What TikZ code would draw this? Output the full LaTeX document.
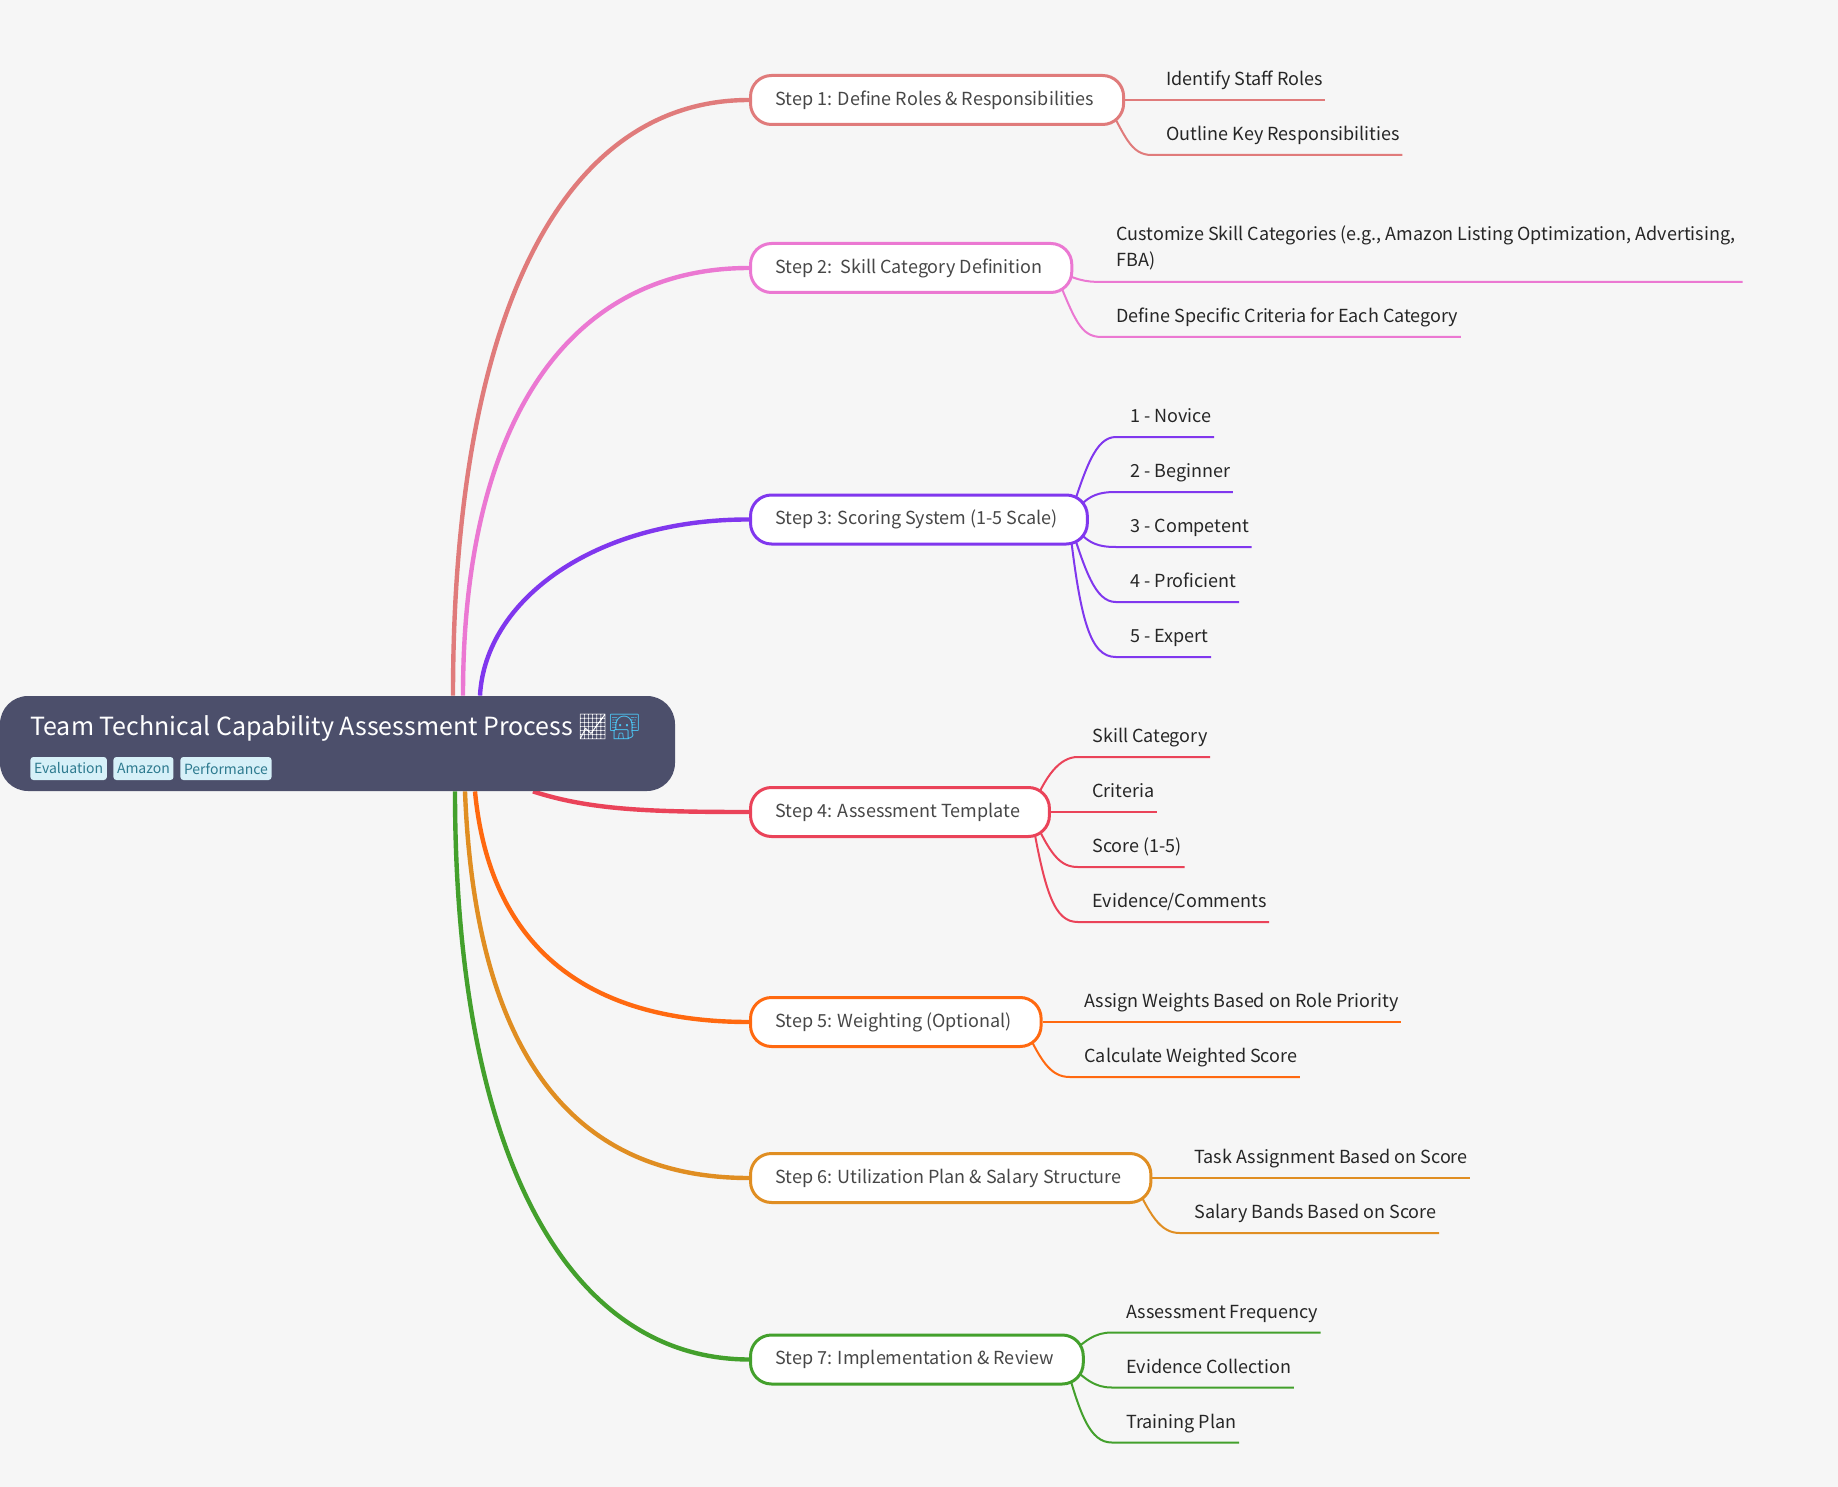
\documentclass[tikz,border=0pt]{standalone}
\usepackage{fontspec}
\setmainfont{Noto Sans CJK SC}
\newfontfamily\emojifont{Noto Emoji}
\usetikzlibrary{positioning}

\definecolor{paper}{HTML}{F6F6F6}
\definecolor{rootfill}{HTML}{4C4F6B}
\definecolor{tagfill}{HTML}{D6F0F8}
\definecolor{tagtext}{HTML}{2D7A8F}
\definecolor{stepone}{HTML}{E07B7B}
\definecolor{steptwo}{HTML}{EB78D2}
\definecolor{stepthree}{HTML}{8037EE}
\definecolor{stepfour}{HTML}{EA4359}
\definecolor{stepfive}{HTML}{FF6910}
\definecolor{stepsix}{HTML}{E08E22}
\definecolor{stepseven}{HTML}{43A02C}

\pgfdeclarelayer{under}
\pgfsetlayers{under,main}

\tikzset{
	rootbox/.style={fill=rootfill, rounded corners=14pt, minimum width=337.5pt, minimum height=47.5pt, inner sep=0pt},
	roottitle/.style={anchor=west, text=white, inner sep=0pt, font=\fontsize{12.5}{14}\selectfont},
	tagbox/.style={anchor=west, fill=tagfill, text=tagtext, rounded corners=1.5pt, inner xsep=1.8pt, inner ysep=0pt, minimum height=11.5pt, font=\fontsize{7}{8}\selectfont},
	stepbox/.style={anchor=west, draw, fill=white, line width=1.5pt, rounded corners=10.5pt, text=black!72, inner xsep=12.5pt, inner ysep=0pt, minimum height=24.5pt, font=\fontsize{9}{11}\selectfont, execute at end node={\hspace*{2.2pt}}},
	leaf/.style={anchor=south west, xshift=.4pt, text=black!85, inner xsep=1.1pt, inner ysep=0pt, text depth=7pt, font=\fontsize{9}{13}\selectfont},
	branch/.style={line width=2.2pt},
	twig/.style={line width=1pt},
}

\begin{document}
\begin{tikzpicture}[x=.5pt, y=-.5pt]
	\useasboundingbox (0,0) rectangle (1838,1487);

	\node[rootbox] (root) at (337.5,743.5) {};
	\node[roottitle] (title) at (30,727.5) {Team Technical Capability Assessment Process\hspace{-1pt} {\emojifont\textcolor{white}{📈}\textcolor{cyan!70!white}{👨‍💻}}};
	\node[tagbox] (tag1) at (30,768.5) {Evaluation};
	\node[tagbox] (tag2) at (113,768.5) {Amazon};
	\node[tagbox] (tag3) at (180,768.5) {Performance};

	\node[stepbox, draw=stepone] (s1) at (749,100) {Step 1: Define Roles \& Responsibilities};
	\node[stepbox, draw=steptwo] (s2) at (749,268) {Step 2:\ \ Skill Category Definition};
	\node[stepbox, draw=stepthree] (s3) at (749,519.5) {Step 3: Scoring System (1-5 Scale)};
	\node[stepbox, draw=stepfour] (s4) at (749,812) {Step 4: Assessment Template};
	\node[stepbox, draw=stepfive] (s5) at (749,1022) {Step 5: Weighting (Optional)};
	\node[stepbox, draw=stepsix] (s6) at (749,1178) {Step 6: Utilization Plan \& Salary Structure};
	\node[stepbox, draw=stepseven] (s7) at (749,1359.5) {Step 7: Implementation \& Review};

	\node[leaf] (l11) at (1163,100) {Identify Staff Roles};
	\node[leaf] (l12) at (1163,155) {Outline Key Responsibilities};
	\node[leaf, align=left, text depth=7.5pt] (l21) at (1113,282) {Customize Skill Categories (e.g., Amazon Listing Optimization, Advertising,\\FBA)};
	\node[leaf] (l22) at (1113,337) {Define Specific Criteria for Each Category};
	\node[leaf] (l31) at (1127,437) {1 - Novice};
	\node[leaf] (l32) at (1127,492) {2 - Beginner};
	\node[leaf] (l33) at (1127,547) {3 - Competent};
	\node[leaf] (l34) at (1127,602) {4 - Proficient};
	\node[leaf] (l35) at (1127,657) {5 - Expert};
	\node[leaf] (l41) at (1089,757) {Skill Category};
	\node[leaf] (l42) at (1089,812) {Criteria};
	\node[leaf] (l43) at (1089,867) {Score (1-5)};
	\node[leaf] (l44) at (1089,922) {Evidence/Comments};
	\node[leaf] (l51) at (1081,1022) {Assign Weights Based on Role Priority};
	\node[leaf] (l52) at (1081,1077) {Calculate Weighted Score};
	\node[leaf] (l61) at (1191,1178) {Task Assignment Based on Score};
	\node[leaf] (l62) at (1191,1233) {Salary Bands Based on Score};
	\node[leaf] (l71) at (1123,1332.5) {Assessment Frequency};
	\node[leaf] (l72) at (1123,1387.5) {Evidence Collection};
	\node[leaf] (l73) at (1123,1442.5) {Training Plan};

	\begin{pgfonlayer}{under}
	\fill[paper] (0,0) rectangle (1838,1487);
	% from the root to the steps
	\draw[branch, stepone] (root.north -| 453,0) .. controls (453,320) and (560,100) .. (s1.west);
	\draw[branch, steptwo] (root.north -| 463,0) .. controls (463,420) and (570,268) .. (s2.west);
	\draw[branch, stepthree] (root.north -| 480,0) .. controls (485,600) and (595,519) .. (s3.west);
	\draw[branch, stepfour] (root.south -| 533,0) .. controls (590,810) and (650,812) .. (s4.west);
	\draw[branch, stepfive] (root.south -| 475,0) .. controls (490,950) and (590,1022) .. (s5.west);
	\draw[branch, stepsix] (root.south -| 465,0) .. controls (475,1050) and (570,1178) .. (s6.west);
	\draw[branch, stepseven] (root.south -| 455,0) .. controls (455,1160) and (570,1359) .. (s7.west);

	% from the steps to the leaves
	\draw[twig, stepone] (s1.east) -- (l11.south east);
	\draw[twig, stepone] ([xshift=-10pt]s1.east) .. controls (1125,135) and (1130,155) .. ([xshift=-6pt]l12.south west) -- (l12.south east);
	\draw[twig, steptwo] ([xshift=-10pt]s2.east) .. controls (1075,280) and (1085,282) .. ([xshift=-6pt]l21.south west) -- ([xshift=2.3pt]l21.south east);
	\draw[twig, steptwo] ([xshift=-10pt]s2.east) .. controls (1075,320) and (1080,337) .. ([xshift=-6pt]l22.south west) -- (l22.south east);
	\draw[twig, stepthree] ([xshift=-10pt]s3.east) .. controls (1085,470) and (1095,437) .. ([xshift=-6pt]l31.south west) -- (l31.south east);
	\draw[twig, stepthree] ([xshift=-10pt]s3.east) .. controls (1085,497) and (1095,492) .. ([xshift=-6pt]l32.south west) -- (l32.south east);
	\draw[twig, stepthree] ([xshift=-10pt]s3.east) .. controls (1085,542) and (1095,547) .. ([xshift=-6pt]l33.south west) -- (l33.south east);
	\draw[twig, stepthree] ([xshift=-10pt]s3.east) .. controls (1085,570) and (1095,602) .. ([xshift=-6pt]l34.south west) -- (l34.south east);
	\draw[twig, stepthree] ([xshift=-10pt]s3.east) .. controls (1080,620) and (1090,657) .. ([xshift=-6pt]l35.south west) -- (l35.south east);
	\draw[twig, stepfour] ([xshift=-10pt]s4.east) .. controls (1045,775) and (1060,757) .. ([xshift=-6pt]l41.south west) -- (l41.south east);
	\draw[twig, stepfour] (s4.east) -- (l42.south east);
	\draw[twig, stepfour] ([xshift=-10pt]s4.east) .. controls (1050,855) and (1060,867) .. ([xshift=-6pt]l43.south west) -- (l43.south east);
	\draw[twig, stepfour] ([xshift=-10pt]s4.east) .. controls (1045,895) and (1055,922) .. ([xshift=-6pt]l44.south west) -- (l44.south east);
	\draw[twig, stepfive] (s5.east) -- (l51.south east);
	\draw[twig, stepfive] ([xshift=-10pt]s5.east) .. controls (1040,1060) and (1050,1077) .. ([xshift=-6pt]l52.south west) -- (l52.south east);
	\draw[twig, stepsix] (s6.east) -- (l61.south east);
	\draw[twig, stepsix] ([xshift=-10pt]s6.east) .. controls (1150,1215) and (1160,1233) .. ([xshift=-6pt]l62.south west) -- (l62.south east);
	\draw[twig, stepseven] ([xshift=-10pt]s7.east) .. controls (1085,1340) and (1095,1332.5) .. ([xshift=-6pt]l71.south west) -- (l71.south east);
	\draw[twig, stepseven] ([xshift=-10pt]s7.east) .. controls (1085,1380) and (1095,1387.5) .. ([xshift=-6pt]l72.south west) -- (l72.south east);
	\draw[twig, stepseven] ([xshift=-10pt]s7.east) .. controls (1080,1415) and (1090,1442.5) .. ([xshift=-6pt]l73.south west) -- (l73.south east);
	\end{pgfonlayer}
\end{tikzpicture}
\end{document}
